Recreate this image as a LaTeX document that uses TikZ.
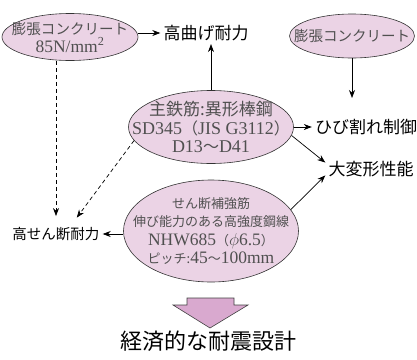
\documentclass[tikz,border=0pt]{standalone}
\usepackage{fontspec}
\setmainfont{Liberation Serif}
\newfontfamily\jp{Noto Sans CJK JP}
\usetikzlibrary{shapes.geometric,arrows.meta}
\definecolor{ellfill}{HTML}{EBD3E5}
\definecolor{arrfill}{HTML}{D9A9CF}
\definecolor{elltext}{HTML}{505050}
\newcommand{\jpt}[2]{{\fontsize{#1}{#1}\selectfont\jp #2}}

\begin{document}
\begin{tikzpicture}[
            x=1pt, y=-1pt,
            ell/.style={draw=black!80, line width=0.6pt, fill=ellfill, ellipse, inner sep=0pt},
            elltxt/.style={text=elltext, align=center, inner sep=0pt},
            lbl/.style={font={\jp\fontsize{17}{20}\selectfont}, inner sep=3pt},
            arr/.style={-{Stealth[length=8pt,width=6pt]}, line width=0.7pt},
            dasharr/.style={arr, dash pattern=on 4pt off 3pt}]
            \useasboundingbox (0,0) rectangle (417,359);
            \node[ell, minimum width=136pt, minimum height=47pt,
                label={[elltxt, font=\fontsize{17.5}{18}\selectfont]center:{\jpt{14.5}{膨張コンクリート}\\85N/mm\textsuperscript{2}}}]
                (e1) at (70,37) {};
            \node[ell, minimum width=125pt, minimum height=44pt,
                label={[elltxt]center:{\jpt{14.5}{膨張コンクリート}}}]
                (e2) at (352,36) {};
            \node[ell, minimum width=165pt, minimum height=73pt,
                label={[elltxt, font=\fontsize{18}{18.5}\selectfont]center:{\jpt{17}{主鉄筋:異形棒鋼}\\SD345\jpt{16}{（}JIS G3112\jpt{16}{）}\\D13\jpt{16}{～}D41}}]
                (e3) at (211,127) {};
            \node[ell, minimum width=175pt, minimum height=102pt,
                label={[elltxt, font=\fontsize{17.5}{18.5}\selectfont]center:{\jpt{13}{せん断補強筋}\\\jpt{13}{伸び能力のある高強度鋼線}\\NHW685\jpt{13}{（}$\phi$6.5\jpt{13}{）}\\\jpt{13}{ピッチ:}45\jpt{13}{～}100mm}}]
                (e4) at (211,231) {};
            \node[lbl] (hb) at (206,33) {高曲げ耐力};
            \node[lbl] (crk) at (366,127) {ひび割れ制御};
            \node[lbl] (dfm) at (371,169) {大変形性能};
            \node[lbl, font={\jp\fontsize{14.5}{17}\selectfont}] (shr) at (56,234) {高せん断耐力};
            \node[lbl, font={\jp\fontsize{22}{24}\selectfont}] (econ) at (208,341) {経済的な耐震設計};
            \coordinate (crkin) at (352,98);
            \draw[arr] (e1.east |- hb) -- (hb.west);
            \draw[arr] (e3.north) -- (e3.north |- hb.south);
            \draw[arr] (e2.south) -- (crkin);
            \draw[arr] (e3.east) -- (crk.west);
            \draw[arr] (e3.-6) -- (dfm.172);
            \draw[arr] (e4.15) -- (dfm.188);
            \draw[arr] (e4.west |- shr) -- (shr.east);
            \draw[dasharr, shorten >=8pt] (e1.south -| shr.north) -- (shr.north);
            \draw[dasharr, shorten >=8pt] (e3.190) -- ([xshift=16pt]shr.north);
            \draw[fill=arrfill, draw=black!75, line width=0.6pt]
                (187,298) -- (234,298) -- (234,305) -- (248,305) -- (210,328)
                -- (173,305) -- (187,305) -- cycle;
        \end{tikzpicture}
\end{document}
